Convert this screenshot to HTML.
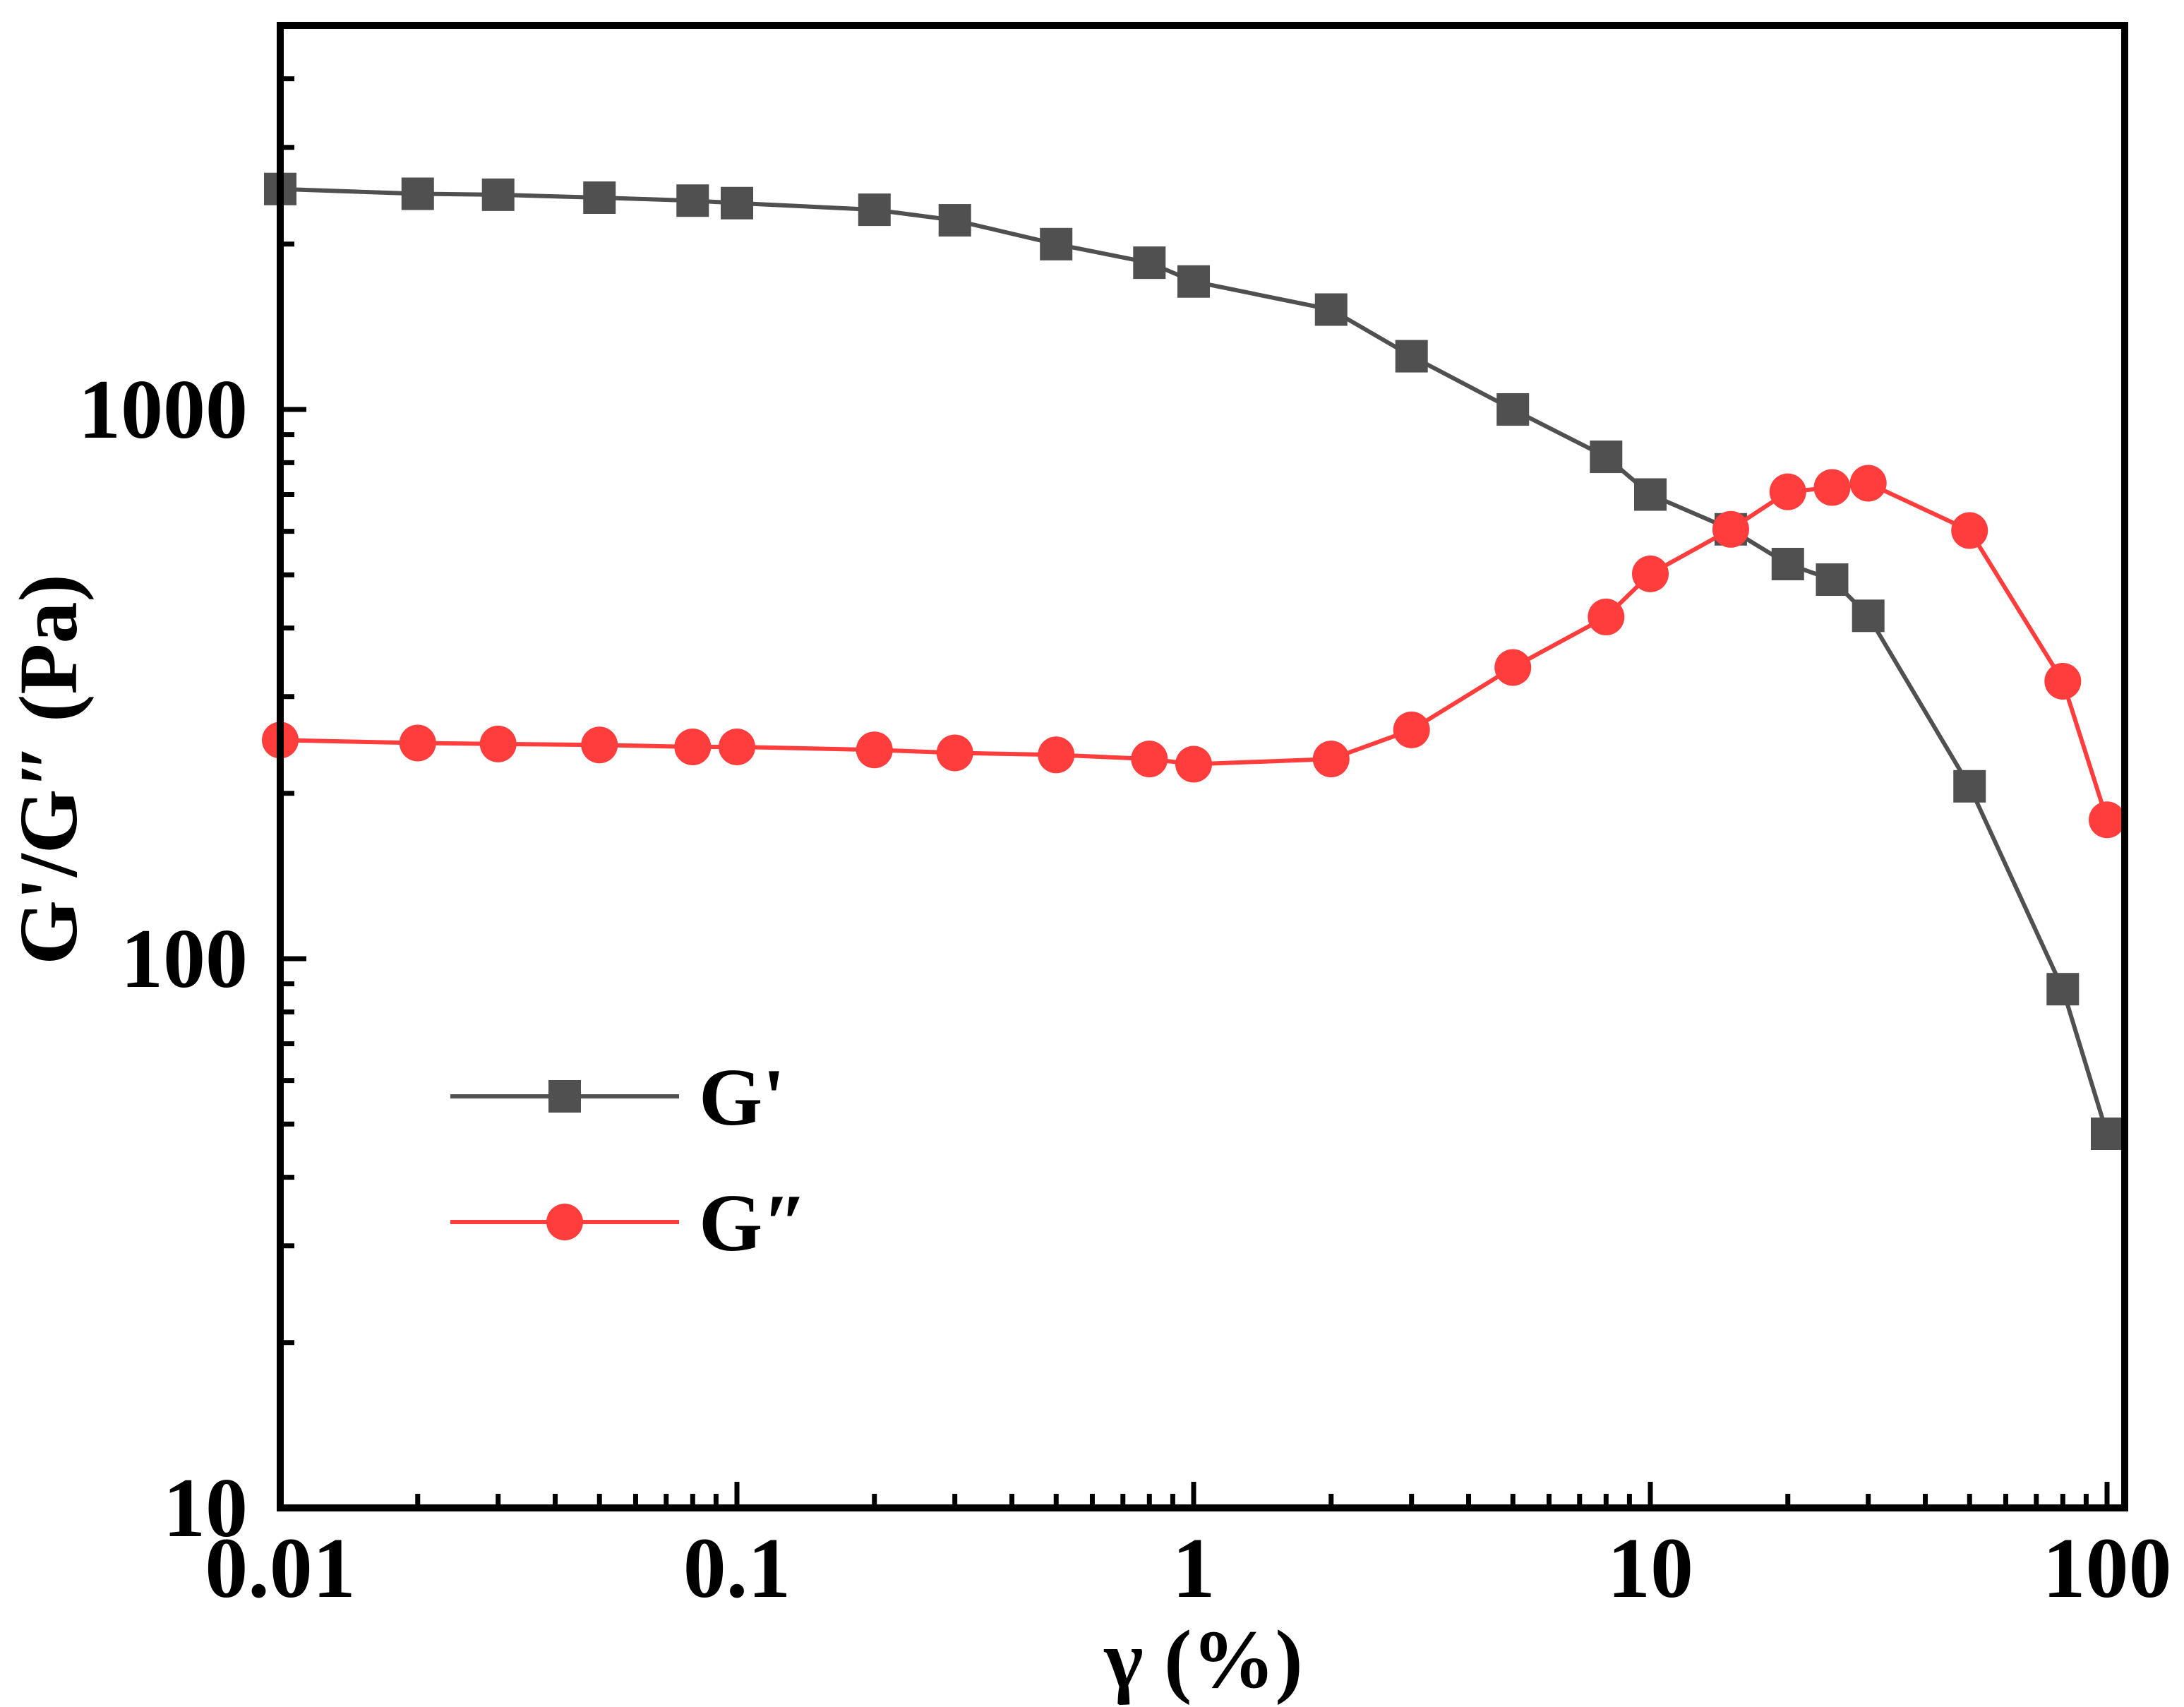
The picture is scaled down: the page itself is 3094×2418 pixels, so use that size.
<!DOCTYPE html>
<html><head><meta charset="utf-8"><style>
html,body{margin:0;padding:0;background:#fff;}
svg{display:block;}
text{font-family:"Liberation Serif",serif;font-weight:bold;fill:#000;}
</style></head><body>
<svg id="chart" width="3094" height="2418" viewBox="0 0 3094 2418" xmlns="http://www.w3.org/2000/svg">
<g id="plot"></g>
</svg>
<script>
const strain = [0.01,0.02,0.03,0.05,0.08,0.1,0.2,0.3,0.5,0.8,1,2,3,5,8,10,15,20,25,30,50,80,100];
const gPrime = [2520,2470,2460,2430,2400,2375,2310,2210,2000,1850,1710,1520,1250,1000,820,700,605,523,490,421,206,88,48];
const gDouble = [250,247,246,245,243,243,240,237,235,231,226,231,261,339,419,502,605,708,721,734,602,320,179];
const xTickLabels = ["0.01","0.1","1","10","100"];
const xTickValues = [0.01,0.1,1,10,100];
const yTickLabels = ["10","100","1000"];
const yTickValues = [10,100,1000];

const L=397,R=3010,T=36,B=2136;
const X0=397, XDEC=647;
const Y10=2136, YDEC=778;
function xs(v){return X0+(Math.log10(v)+2)*XDEC;}
function ys(v){return Y10-(Math.log10(v)-1)*YDEC;}
const NS="http://www.w3.org/2000/svg";
const svg=document.getElementById('chart');
function mk(tag,attrs,parent){const e=document.createElementNS(NS,tag);for(const k in attrs)e.setAttribute(k,attrs[k]);(parent||svg).appendChild(e);return e;}

const ticks=mk('g',{});


for(let d=-2;d<=2;d++){
  for(let m=1;m<=9;m++){
    const v=m*Math.pow(10,d);
    if(v>110)break;
    const x=xs(v);
    if(x>R)continue;
    const len=(m===1)?37:20;
    mk('line',{x1:x,x2:x,y1:B,y2:B-len,stroke:'#000','stroke-width':7},ticks);
  }
}
for(let d=1;d<=4;d++){
  for(let m=1;m<=9;m++){
    const v=m*Math.pow(10,d);
    const y=ys(v);
    if(y<T)continue;
    const len=(m===1)?37:20;
    mk('line',{x1:L,x2:L+len,y1:y,y2:y,stroke:'#000','stroke-width':7},ticks);
  }
}

function series(vals,color,name,marker){
  const g=mk('g',{});
  
  
  const pts=strain.map((s,i)=>xs(s)+','+ys(vals[i])).join(' ');
  const pl=mk('polyline',{points:pts,fill:'none',stroke:color,'stroke-width':6},g);
  
  
  strain.forEach((s,i)=>{
    let e;
    if(marker==='square') e=mk('rect',{x:xs(s)-23,y:ys(vals[i])-23,width:46,height:46,fill:color},g);
    else e=mk('ellipse',{cx:xs(s),cy:ys(vals[i]),rx:26,ry:26,fill:color},g);
    
    
  });
}
series(gPrime,'#505050','g-prime','square');
series(gDouble,'#ff3d3d','g-double-prime','circle');

const frame=mk('rect',{x:L,y:T,width:R-L,height:B-T,fill:'none',stroke:'#000','stroke-width':10});



xTickValues.forEach((v,i)=>{
  const t=mk('text',{x:xs(v),y:2262,'text-anchor':'middle','font-size':122});
  t.textContent=xTickLabels[i];
  
  
});
yTickValues.forEach((v,i)=>{
  const t=mk('text',{x:351,y:ys(v)+40,'text-anchor':'end','font-size':120});
  t.textContent=yTickLabels[i];
  
  
});

const xt=mk('text',{x:1705,y:2390,'text-anchor':'middle','font-size':118});
xt.textContent='γ (%)';


const yt=mk('text',{x:0,y:0,'text-anchor':'middle','font-size':118,transform:'translate(108,1090) rotate(-90)'});
yt.textContent='G\'/G″ (Pa)';



const lg=mk('g',{});


mk('line',{x1:638,x2:962,y1:1553,y2:1553,stroke:'#505050','stroke-width':6},lg);
mk('rect',{x:777,y:1530,width:46,height:46,fill:'#505050'},lg);
const l1=mk('text',{x:990,y:1593,'font-size':116},lg);
l1.textContent="G'";


mk('line',{x1:638,x2:962,y1:1731,y2:1731,stroke:'#ff3d3d','stroke-width':6},lg);
mk('ellipse',{cx:800,cy:1731,rx:26,ry:26,fill:'#ff3d3d'},lg);
const l2=mk('text',{x:990,y:1771,'font-size':116},lg);
l2.textContent='G″';


</script>
</body></html>
